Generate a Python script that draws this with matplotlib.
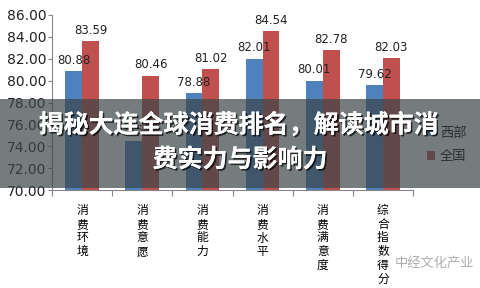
import matplotlib
matplotlib.use("Agg")
import matplotlib.pyplot as plt
import matplotlib.patheffects as pe
from matplotlib.patches import Rectangle
import numpy as np

plt.rcParams['font.family'] = ['Noto Sans CJK SC', 'DejaVu Sans']

categories = ['消费环境', '消费意愿', '消费能力', '消费水平', '消费满意度', '综合指数得分']
west = [80.88, 74.50, 78.88, 82.01, 80.01, 79.62]
national = [83.59, 80.46, 81.02, 84.54, 82.78, 82.03]
yticks = [70, 72, 74, 76, 78, 80, 82, 84, 86]
title_lines = ['揭秘大连全球消费排名，解读城市消', '费实力与影响力']

fig = plt.figure(figsize=(4.8, 2.88), dpi=100)
ax = fig.add_axes([52 / 480, 1 - 190 / 288, (413 - 52) / 480, 175 / 288])

x = np.arange(len(categories))
w = 0.28
b1 = ax.bar(x - w / 2, west, w, color='#4f81bd', label='西部')
b2 = ax.bar(x + w / 2, national, w, color='#c0504d', label='全国')
for bars in (b1, b2):
    ax.bar_label(bars, fmt='%.2f', padding=3, fontsize=8.5, family='DejaVu Sans', color='#222222')

ax.set_ylim(70, 86)
ax.set_xlim(-0.5, len(categories) - 0.5)
ax.set_yticks(yticks)
ax.set_yticklabels([f'{v:.2f}' for v in yticks], family='DejaVu Sans', fontsize=10, color='#222222')
ax.tick_params(axis='y', length=3, color='#868686', pad=1)

# category boundary ticks, vertical labels at centers
ax.set_xticks(np.arange(len(categories) + 1) - 0.5)
ax.set_xticklabels([])
ax.tick_params(axis='x', which='major', length=4, color='#868686')
ax.set_xticks(x, minor=True)
ax.set_xticklabels(['\n'.join(c) for c in categories], minor=True, fontsize=8.5,
                   linespacing=1.08, va='top')
ax.tick_params(axis='x', which='minor', length=0, pad=10)

for s in ('top', 'right'):
    ax.spines[s].set_visible(False)
for s in ('left', 'bottom'):
    ax.spines[s].set_color('#868686')

fig.legend(handles=[b1, b2], loc='center left', bbox_to_anchor=(415 / 480, 1 - 145 / 288),
           frameon=False, fontsize=9.5, handlelength=0.6, handleheight=0.6,
           handletextpad=0.4, labelspacing=0.8)

# translucent band behind the headline
fig.add_artist(Rectangle((0, 1 - 188 / 288), 1, 89 / 288, transform=fig.transFigure,
                         facecolor='#3a4548', alpha=0.7, edgecolor='none', zorder=10))

shadow = [pe.withSimplePatchShadow(offset=(1.2, -1.2), shadow_rgbFace='black', alpha=0.7),
          pe.Normal()]
fig.text(0.497, 1 - 125 / 288, title_lines[0], ha='center', va='center', color='white',
         fontsize=18, fontweight='bold', zorder=20, path_effects=shadow)
fig.text(0.5, 1 - 160 / 288, title_lines[1], ha='center', va='center', color='white',
         fontsize=18, fontweight='bold', zorder=20, path_effects=shadow)

fig.text(395 / 480, 1 - 263 / 288, '中经文化产业', ha='left', va='center', color='#9a9a9a',
         fontsize=9.5, alpha=0.8, zorder=20)

fig.savefig('out.png', dpi=100)
